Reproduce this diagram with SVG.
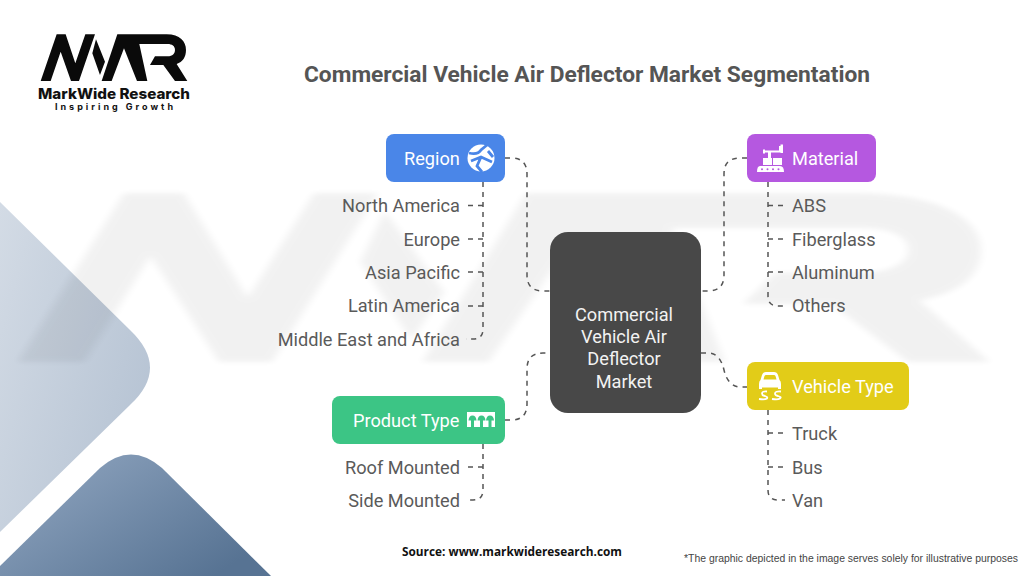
<svg xmlns="http://www.w3.org/2000/svg" xmlns:xlink="http://www.w3.org/1999/xlink" width="1024" height="576" viewBox="0 0 1024 576">
<style>
text{font-family:Roboto,"Liberation Sans",sans-serif}
.lbl{font-size:18.200px;fill:#5a5a5a}
.end{text-anchor:end}
.hd{font-size:18.200px;fill:#fff}
.ct{font-size:18.200px;fill:#f2f2f2;text-anchor:middle}
.c{fill:none;stroke:#555;stroke-width:1.5;stroke-dasharray:5 5}
.ic{fill:#fff}
</style>
<defs>
<linearGradient id="g1" x1="0" y1="0" x2="1" y2="0.6"><stop offset="0" stop-color="#d3dbe5"/><stop offset="1" stop-color="#b7c4d4"/></linearGradient>
<linearGradient id="g2" x1="0" y1="0" x2="1" y2="0.7"><stop offset="0" stop-color="#94a9c3"/><stop offset="1" stop-color="#577393"/></linearGradient>
<filter id="soft" x="-5%" y="-5%" width="110%" height="110%"><feGaussianBlur stdDeviation="2"/></filter>
<path id="mwr" d="M122,243L170,103H197L226,190L256,103H285L237,243H213L182,155L152,243ZM288,118L315,185L300,225L277,160ZM305,243L352,103H500C540,103 558,125 558,150C558,172 548,186 530,192L562,243H525L490,195H450L465,169H503C518,169 525,160 525,150C525,138 516,132 503,132H418L442,243H411L372,145L335,243Z"/>
</defs>
<rect width="1024" height="576" fill="#fff"/>
<g id="panels">
<path d="M0,202L130,330Q170,368 130,405L0,532Z" fill="url(#g1)"/>
<path d="M0,566L100,468Q131,441 162,468L271,576H0Z" fill="url(#g2)"/>
</g>
<use id="watermark" xlink:href="#mwr" href="#mwr" transform="translate(-251.5,68.6) scale(2.209,1.207)" fill="#000" opacity="0.05" filter="url(#soft)"/>
<g id="logo">
<use xlink:href="#mwr" href="#mwr" transform="scale(0.3333)" fill="#0a0a0a"/>
<text x="38" y="99" font-size="14.500" font-weight="800" fill="#111" textLength="152" lengthAdjust="spacingAndGlyphs" style="font-family:Inter,sans-serif">MarkWide Research</text>
<text x="55" y="109.500" font-size="9" font-weight="700" fill="#111" textLength="118" style="font-family:Inter,sans-serif">Inspiring Growth</text>
</g>
<text id="title" x="304" y="82" font-size="22" font-weight="700" fill="#555" textLength="566" lengthAdjust="spacingAndGlyphs">Commercial Vehicle Air Deflector Market Segmentation</text>
<g id="connectors">
<path class="c" d="M505,158H511Q527,158 527,174V275Q527,291 543,291H550"/>
<path class="c" d="M747,158H740Q724,158 724,174V275Q724,291 708,291H701"/>
<path class="c" d="M505,420H511Q527,420 527,404V369Q527,353 543,353H550"/>
<path class="c" d="M701,353H708Q720,353 724,370Q728,387 741,387H747"/>
<path class="c" d="M483,182V329Q483,339 473,339H466"/>
<path class="c" d="M483,205.500H466M483,239H466M483,272H466M483,306H466"/>
<path class="c" d="M768,182V296Q768,306 778,306H785"/>
<path class="c" d="M768,205.500H785M768,239H785M768,272H785"/>
<path class="c" d="M483,444V490Q483,500 473,500H466"/>
<path class="c" d="M483,467H466"/>
<path class="c" d="M768,410V490Q768,500 778,500H785"/>
<path class="c" d="M768,433H785M768,467H785"/>
</g>
<g id="node-center">
<rect x="550" y="232" width="151" height="181" rx="18" fill="#484848"/>
<text class="ct" x="624" y="320.500">Commercial</text>
<text class="ct" x="624" y="342.500">Vehicle Air</text>
<text class="ct" x="624" y="365">Deflector</text>
<text class="ct" x="624" y="387.500">Market</text>
</g>
<g id="node-region">
<rect x="386" y="134" width="119" height="48" rx="8" fill="#4a86e8"/>
<text class="hd" x="404" y="164.500">Region</text>
<circle class="ic" cx="481" cy="158" r="13.500"/>
<path d="M469,153Q478,155 481,150L487,145M471,161L481,157L492,162M481,157L477,166L482,172M488,151L493,157" fill="none" stroke="#4a86e8" stroke-width="2.800"/>
</g>
<g id="product-list">
<text class="lbl end" x="460" y="473.500">Roof Mounted</text>
<text class="lbl end" x="460" y="506.500">Side Mounted</text>
</g>
<g id="region-list">
<text class="lbl end" x="460" y="212">North America</text>
<text class="lbl end" x="460" y="245.500">Europe</text>
<text class="lbl end" x="460" y="278.500">Asia Pacific</text>
<text class="lbl end" x="460" y="312">Latin America</text>
<text class="lbl end" x="460" y="345.500">Middle East and Africa</text>
</g>
<g id="node-material">
<rect x="747" y="134" width="129" height="48" rx="8" fill="#b558e0"/>
<text class="hd" x="792" y="164.500">Material</text>
<path class="ic" d="M760,166H780Q784,166 784,172H757Q757,166 760,166ZM763,158H772V165H763ZM773,158H782V165H773ZM763,149.500H765V150.500H779V146H780.500V144.500H783V153H780.500V152.500H771V158H768V152.500H765V153.500H763Z"/>
<g fill="#b558e0"><circle cx="762" cy="169.300" r="1"/><circle cx="767.500" cy="169.300" r="1"/><circle cx="773" cy="169.300" r="1"/><circle cx="778.500" cy="169.300" r="1"/></g>
</g>
<g id="material-list">
<text class="lbl" x="792" y="212">ABS</text>
<text class="lbl" x="792" y="245.500">Fiberglass</text>
<text class="lbl" x="792" y="278.500">Aluminum</text>
<text class="lbl" x="792" y="312">Others</text>
</g>
<g id="node-product">
<rect x="332" y="396" width="173" height="48" rx="8" fill="#3cc585"/>
<text class="hd" x="353" y="426.500">Product Type</text>
<rect class="ic" x="467" y="412" width="28" height="15"/>
<path d="M468.500,420.500Q469,415.500 472.500,415.500Q476,415.500 476.500,420.500H474V427H471V420.500ZM477.500,420.500Q478,415.500 481.500,415.500Q485,415.500 485.500,420.500H483V427H480V420.500ZM486,420.500Q486.500,415.500 490,415.500Q493.500,415.500 494,420.500H491.500V427H488.500V420.500Z" fill="#3cc585"/>
</g>
<g id="node-vehicle">
<rect x="747" y="362" width="162" height="48" rx="8" fill="#e2cc18"/>
<text class="hd" x="792" y="392.500">Vehicle Type</text>
<path class="ic" fill-rule="evenodd" d="M766,372H774Q777,372 778,375L779.500,380Q781,381 781,384V389H778V387.500H762V389H759V384Q759,381 760.500,380L762,375Q763,372 766,372ZM766,375Q765,375 764.500,376L763.500,379.500H776.500L775.500,376Q775,375 774,375Z"/>
<path d="M767,391.500Q762,391 762,393.500Q762,395.500 765,396Q768,397 767,398.500Q765,400 759,399M781,391.500Q775,391 775,393.500Q775,395.500 778,396Q782,397 780,398.500Q778,400 772,399" fill="none" stroke="#fff" stroke-width="1.800"/>
</g>
<g id="vehicle-list">
<text class="lbl" x="792" y="440">Truck</text>
<text class="lbl" x="792" y="473.500">Bus</text>
<text class="lbl" x="792" y="506.500">Van</text>
</g>
<text id="source" x="402" y="555.500" font-size="12.500" font-weight="700" fill="#111" textLength="220" lengthAdjust="spacingAndGlyphs" style="font-family:'Open Sans',sans-serif">Source: www.markwideresearch.com</text>
<text id="note" x="684" y="562" font-size="10.500" fill="#444" textLength="334" lengthAdjust="spacingAndGlyphs" style="font-family:'Liberation Sans',sans-serif">*The graphic depicted in the image serves solely for illustrative purposes</text>
</svg>
